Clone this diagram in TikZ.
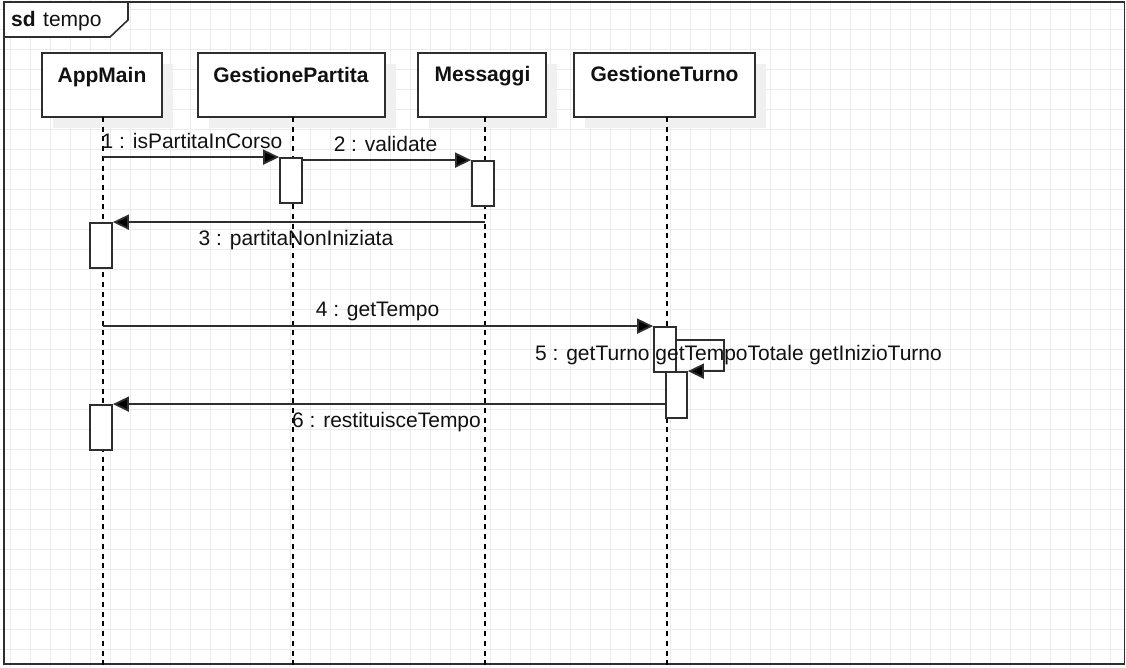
\documentclass[tikz,border=0pt]{standalone}
\usepackage{fontspec}
\setmainfont{Liberation Sans}
\usetikzlibrary{arrows.meta,shadows}
\definecolor{ink}{HTML}{2E2E2E}
\definecolor{txt}{HTML}{111111}
\definecolor{gridc}{HTML}{EBEBEB}
\definecolor{shadowc}{HTML}{F0F0F0}
\begin{document}
\begin{tikzpicture}[x=1pt,y=-1pt,
  lbl/.style={font=\fontsize{21}{25}\selectfont, text=txt, inner sep=0pt, anchor=base},
  bold/.style={lbl, font=\fontsize{21}{25}\selectfont\bfseries},
  part/.style={draw=ink, line width=1.8pt, fill=white, inner sep=0pt,
    drop shadow={fill=shadowc, opacity=1, shadow xshift=11pt, shadow yshift=-11pt}},
  act/.style={draw=ink, line width=1.8pt, fill=white, inner sep=0pt, minimum width=22pt},
  lifeline/.style={draw=black, line width=1.6pt, dash pattern=on 5pt off 4.7pt},
  msg/.style={draw=ink, line width=1.8pt, -{Triangle[length=16pt,width=15pt,fill=black]}},
  frame/.style={draw=ink, line width=1.9pt}
]
\useasboundingbox (0,0) rectangle (1126,667);
\fill[white] (0,0) rectangle (1126,667);
% grid
\foreach \gx in {10,30,...,1110} \draw[gridc, line width=1pt] (\gx,0) -- (\gx,667);
\foreach \gy in {9,29,...,649} \draw[gridc, line width=1pt] (0,\gy) -- (1126,\gy);

% frame
\draw[frame] (4,2) rectangle (1124.5,664);
\draw[frame, line width=1.6pt, fill=white] (4,2) -- (128,2) -- (128,20) -- (110,37) -- (4,37) -- cycle;
\node[bold, anchor=base west] (sd) at (11,26) {sd};
\node[lbl, anchor=base west] (sdname) at (43,26) {tempo};

% participants
\node[part, minimum width=120pt, minimum height=64pt] (pAM) at (102,85) {};
\node[part, minimum width=187pt, minimum height=64pt] (pGP) at (291.5,85) {};
\node[part, minimum width=128pt, minimum height=64pt] (pMS) at (482,85) {};
\node[part, minimum width=181pt, minimum height=64pt] (pGT) at (664.5,85) {};
\node[bold] (tAM) at (102,82) {AppMain};
\node[bold] (tGP) at (291,82) {GestionePartita};
\node[bold] (tMS) at (482.5,81) {Messaggi};
\node[bold] (tGT) at (664.5,81) {GestioneTurno};

% lifelines
\coordinate (lAM) at (103,117); \coordinate (eAM) at (103,667);
\coordinate (lGP) at (293,117); \coordinate (eGP) at (293,667);
\coordinate (lMS) at (485,117); \coordinate (eMS) at (485,667);
\coordinate (lGT) at (667,117); \coordinate (eGT) at (667,667);
\draw[lifeline] (lAM) -- (eAM);
\draw[lifeline] (lGP) -- (eGP);
\draw[lifeline] (lMS) -- (eMS);
\draw[lifeline] (lGT) -- (eGT);

% activations
\node[act, minimum height=45pt] (a1) at (291,180.5) {};
\node[act, minimum height=45pt] (a2) at (483,183.5) {};
\node[act, minimum height=45pt] (a3) at (101,245.5) {};
\node[act, minimum height=45pt] (a4) at (665,349.5) {};
\node[act, minimum height=46pt, minimum width=21pt] (a5) at (676.5,395) {};
\node[act, minimum height=45pt] (a6) at (101,427.5) {};

% messages
\draw[msg] (lAM |- a1.north west) -- (a1.north west);
\draw[msg] (a1.east |- a2.north west) -- (a2.north west);
\draw[msg] (lMS |- a3.north east) -- (a3.north east);
\draw[msg] (lAM |- a4.north west) -- (a4.north west);
\coordinate (s5) at (724,340);
\draw[msg] (a4.east |- s5) -- (s5) -- (s5 |- a5.north east) -- (a5.north east);
\draw[msg] (a5.west |- a6.north east) -- (a6.north east);

% labels
\node[lbl] (m1) at (192,148) {1 : isPartitaInCorso};
\node[lbl] (m2) at (385.5,151) {2 : validate};
\node[lbl] (m3) at (296,245) {3 : partitaNonIniziata};
\node[lbl] (m4) at (377.5,316) {4 : getTempo};
\node[lbl] (m5) at (738.5,360) {5 : getTurno getTempoTotale getInizioTurno};
\node[lbl] (m6) at (386.5,427) {6 : restituisceTempo};
\end{tikzpicture}
\end{document}
